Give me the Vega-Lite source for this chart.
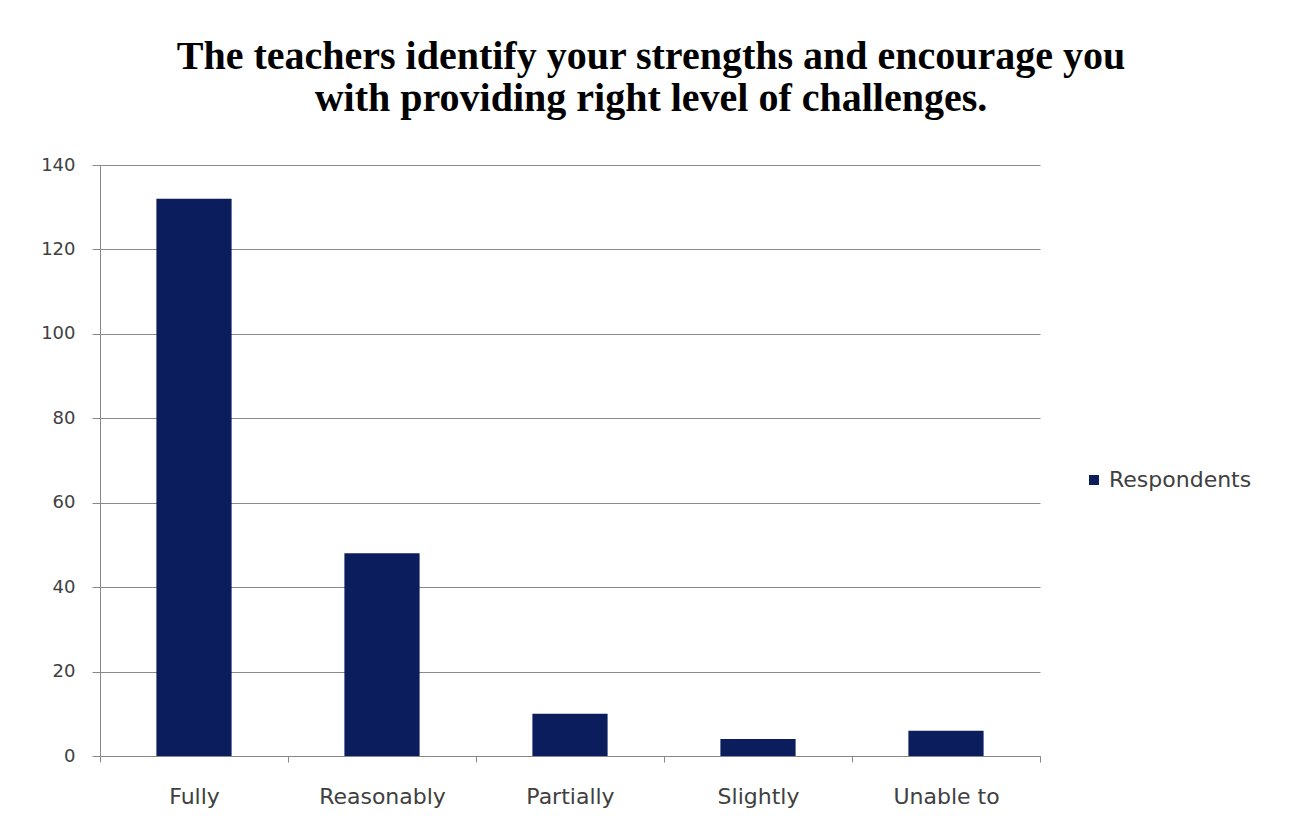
{
  "$schema": "https://vega.github.io/schema/vega-lite/v6.json",
  "width": 940,
  "height": 591,
  "autosize": {"type": "none"},
  "padding": {"left": 100, "top": 165, "right": 255, "bottom": 73},
  "background": "white",
  "title": {
    "text": ["The teachers identify your strengths and encourage you", "with providing right level of challenges."],
    "font": "Liberation Serif",
    "fontSize": 40,
    "fontWeight": "bold",
    "color": "#000000",
    "anchor": "middle",
    "frame": "group",
    "dx": 81,
    "offset": 37,
    "lineHeight": 42
  },
  "data": {
    "values": [
      {"category": "Fully", "series": "Respondents", "value": 132},
      {"category": "Reasonably", "series": "Respondents", "value": 48},
      {"category": "Partially", "series": "Respondents", "value": 10},
      {"category": "Slightly", "series": "Respondents", "value": 4},
      {"category": "Unable to", "series": "Respondents", "value": 6}
    ]
  },
  "mark": {"type": "bar", "color": "#0b1d5c", "width": {"band": 0.4}},
  "encoding": {
    "x": {
      "field": "category",
      "type": "nominal",
      "sort": null,
      "scale": {"paddingInner": 0, "paddingOuter": 0},
      "axis": {
        "title": null,
        "labelAngle": 0,
        "labelFont": "DejaVu Sans",
        "labelFontSize": 22,
        "labelColor": "#404040",
        "labelPadding": 24,
        "domainColor": "#888888",
        "tickColor": "#888888",
        "tickBand": "extent",
        "tickSize": 6,
        "grid": false
      }
    },
    "y": {
      "field": "value",
      "type": "quantitative",
      "scale": {"domain": [0, 140]},
      "axis": {
        "title": null,
        "values": [0, 20, 40, 60, 80, 100, 120, 140],
        "labelFont": "DejaVu Sans",
        "labelFontSize": 18,
        "labelColor": "#404040",
        "labelPadding": 17,
        "tickSize": 8,
        "tickColor": "#888888",
        "domainColor": "#888888",
        "gridColor": "#8a8a8a",
        "gridWidth": 1
      }
    },
    "fill": {
      "field": "series",
      "type": "nominal",
      "scale": {"range": ["#0b1d5c"]},
      "legend": {
        "title": null,
        "orient": "none",
        "legendX": 983,
        "legendY": 304,
        "symbolType": "square",
        "symbolSize": 100,
        "labelFont": "DejaVu Sans",
        "labelFontSize": 22,
        "labelColor": "#404040"
      }
    }
  },
  "config": {"view": {"stroke": null}}
}
